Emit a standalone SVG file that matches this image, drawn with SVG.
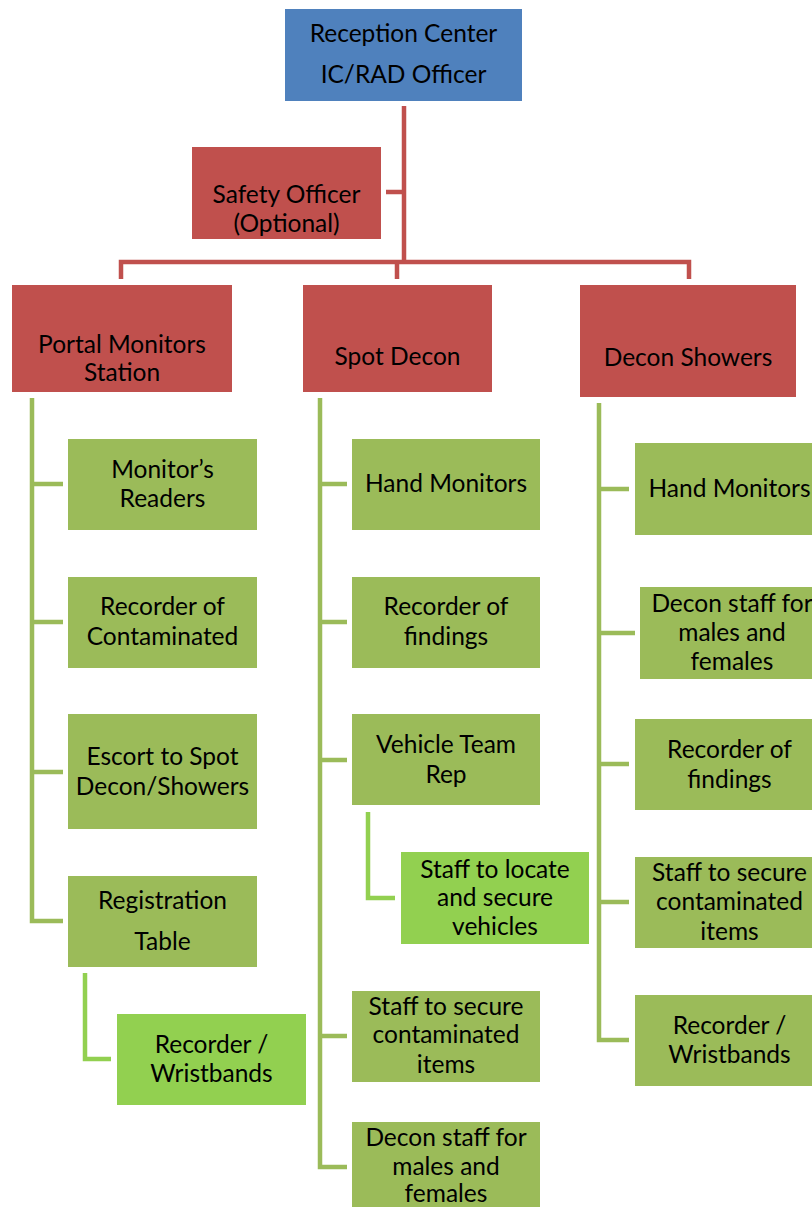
<svg xmlns="http://www.w3.org/2000/svg" width="812" height="1207" viewBox="0 0 812 1207">
<style>
.t{font-family:Lato,"Open Sans","Liberation Sans",sans-serif;font-size:24.5px;fill:#000;text-anchor:middle}
.blue{fill:#4F81BD}
.red{fill:#C0504D}
.grn{fill:#9BBB59}
.lime{fill:#92D050}
.cr{fill:none;stroke:#C0504D;stroke-width:4.5}
.cg{fill:none;stroke:#9BBB59;stroke-width:4.5}
.cl{fill:none;stroke:#92D050;stroke-width:4.5}
</style>
<rect width="812" height="1207" fill="#fff"/>
<g id="connectors">
<path class="cr" d="M404 106V262M386 192H404M121 279V262H689V279M397 262V279"/>
<path class="cg" d="M32 398V921H63M32 484H63M32 622H63M32 772H63"/>
<path class="cg" d="M320 398V1167H347M320 484H347M320 622H347M320 760H347M320 1036H347"/>
<path class="cg" d="M599 403V1040H629M599 489H629M599 633H635M599 764H629M599 902H629"/>
<path class="cl" d="M85 973V1059H111"/>
<path class="cl" d="M368 812V898H395"/>
</g>
<g id="reception"><rect class="blue" x="285" y="9" width="237" height="92"/><text class="t" x="403.5" y="42">Reception Center</text><text class="t" x="403.5" y="83">IC/RAD Officer</text></g>
<g id="safety"><rect class="red" x="192" y="147" width="189" height="92"/><text class="t" x="286.5" y="203">Safety Officer</text><text class="t" x="286.5" y="232">(Optional)</text></g>
<g id="portal"><rect class="red" x="12" y="285" width="220" height="107"/><text class="t" x="122" y="353">Portal Monitors</text><text class="t" x="122" y="381">Station</text></g>
<g id="spot"><rect class="red" x="303" y="285" width="189" height="107"/><text class="t" x="397.5" y="365">Spot Decon</text></g>
<g id="showers"><rect class="red" x="580" y="285" width="216" height="112"/><text class="t" x="688" y="366">Decon Showers</text></g>

<g id="monitors-readers"><rect class="grn" x="68" y="439" width="189" height="91"/><text class="t" x="162.5" y="478">Monitor’s</text><text class="t" x="162.5" y="507">Readers</text></g>
<g id="recorder-contaminated"><rect class="grn" x="68" y="577" width="189" height="91"/><text class="t" x="162.5" y="615">Recorder of</text><text class="t" x="162.5" y="645">Contaminated</text></g>
<g id="escort"><rect class="grn" x="68" y="714" width="189" height="115"/><text class="t" x="162.5" y="765">Escort to Spot</text><text class="t" x="162.5" y="795">Decon/Showers</text></g>
<g id="registration"><rect class="grn" x="68" y="876" width="189" height="91"/><text class="t" x="162.5" y="909">Registration</text><text class="t" x="162.5" y="950">Table</text></g>
<g id="recorder-wristbands-1"><rect class="lime" x="117" y="1014" width="189" height="91"/><text class="t" x="211.5" y="1053">Recorder /</text><text class="t" x="211.5" y="1082">Wristbands</text></g>

<g id="hand-monitors-1"><rect class="grn" x="352" y="439" width="188" height="91"/><text class="t" x="446" y="492">Hand Monitors</text></g>
<g id="recorder-findings-1"><rect class="grn" x="352" y="577" width="188" height="91"/><text class="t" x="446" y="615">Recorder of</text><text class="t" x="446" y="645">findings</text></g>
<g id="vehicle-team"><rect class="grn" x="352" y="714" width="188" height="91"/><text class="t" x="446" y="753">Vehicle Team</text><text class="t" x="446" y="783">Rep</text></g>
<g id="staff-vehicles"><rect class="lime" x="401" y="852" width="188" height="92"/><text class="t" x="495" y="878">Staff to locate</text><text class="t" x="495" y="906">and secure</text><text class="t" x="495" y="935">vehicles</text></g>
<g id="staff-secure-1"><rect class="grn" x="352" y="991" width="188" height="91"/><text class="t" x="446" y="1015">Staff to secure</text><text class="t" x="446" y="1043">contaminated</text><text class="t" x="446" y="1073">items</text></g>
<g id="decon-staff-1"><rect class="grn" x="352" y="1122" width="188" height="95"/><text class="t" x="446" y="1146">Decon staff for</text><text class="t" x="446" y="1175">males and</text><text class="t" x="446" y="1202">females</text></g>

<g id="hand-monitors-2"><rect class="grn" x="635" y="443" width="189" height="92"/><text class="t" x="729.5" y="497">Hand Monitors</text></g>
<g id="decon-staff-2"><rect class="grn" x="640" y="587" width="189" height="92"/><text class="t" x="732" y="612">Decon staff for</text><text class="t" x="732" y="641">males and</text><text class="t" x="732" y="670">females</text></g>
<g id="recorder-findings-2"><rect class="grn" x="635" y="719" width="189" height="91"/><text class="t" x="729.5" y="758">Recorder of</text><text class="t" x="729.5" y="788">findings</text></g>
<g id="staff-secure-2"><rect class="grn" x="635" y="857" width="189" height="91"/><text class="t" x="729.5" y="881">Staff to secure</text><text class="t" x="729.5" y="910">contaminated</text><text class="t" x="729.5" y="940">items</text></g>
<g id="recorder-wristbands-2"><rect class="grn" x="635" y="995" width="189" height="91"/><text class="t" x="729.5" y="1034">Recorder /</text><text class="t" x="729.5" y="1063">Wristbands</text></g>
</svg>
